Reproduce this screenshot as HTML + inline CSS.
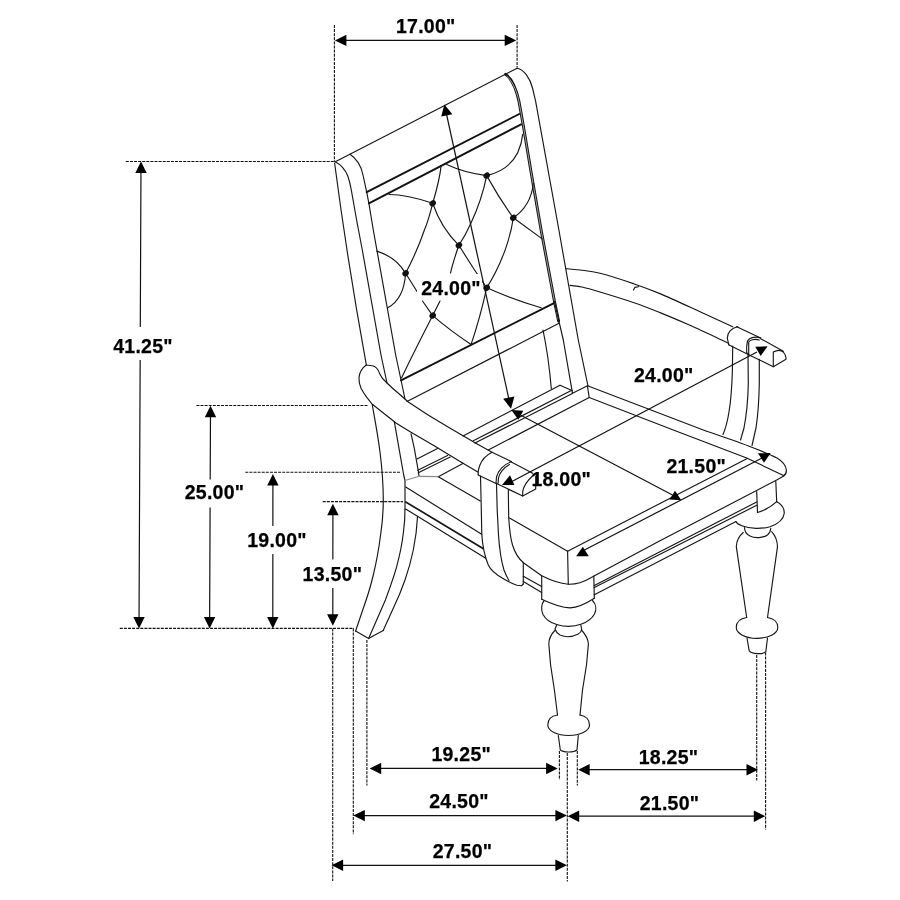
<!DOCTYPE html>
<html>
<head>
<meta charset="utf-8">
<title>Chair dimensions</title>
<style>
html,body{margin:0;padding:0;background:#fff;}
body{width:900px;height:900px;overflow:hidden;font-family:"Liberation Sans",sans-serif;}
svg{will-change:transform;display:block;position:absolute;left:0;top:0;}
.l{fill:none;stroke:#161616;stroke-width:1.15;stroke-linecap:round;stroke-linejoin:round;}
.k{fill:none;stroke:#111;stroke-width:1.9;stroke-linecap:round;stroke-linejoin:round;}
.g{fill:none;stroke:#8a8a8a;stroke-width:1.2;stroke-linecap:round;}
.d{fill:none;stroke:#111;stroke-width:1.1;stroke-dasharray:3 1.1;}
.a{fill:none;stroke:#111;stroke-width:1.2;}
.h{fill:#000;stroke:none;}
.b{fill:#111;stroke:none;}
.w{fill:#fff;stroke:none;}
text{font-family:"Liberation Sans",sans-serif;font-weight:bold;font-size:19.5px;fill:#000;letter-spacing:0.26px;stroke:#000;stroke-width:0.25px;text-anchor:middle;}
</style>
</head>
<body>
<svg width="900" height="900" viewBox="0 0 900 900">
<rect x="0" y="0" width="900" height="900" fill="#fff"/>

<!-- ===== extension (dotted) lines ===== -->
<g id="ext" class="d">
<path d="M334.4,25V162"/>
<path d="M517.1,25V67.5"/>
<path d="M125.8,161.5H334"/>
<path d="M196.4,405.5H368"/>
<path d="M245.3,472.3H400"/>
<path d="M322.7,501.6H403"/>
<path d="M119.8,628.4H354"/>
<path d="M332.7,628.5V881"/>
<path d="M353.3,628.5V834.3"/>
<path d="M366.9,640V785.4"/>
<path d="M559.4,751V780"/>
<path d="M567.3,753V881.5"/>
<path d="M577.3,751V785.4"/>
<path d="M756.7,655V780.6"/>
<path d="M765.6,652.5V829.4"/>
</g>

<!-- ===== CHAIR ===== -->
<g id="chair">
<!--CHAIR-START-->
<!-- back frame -->
<path class="l" d="M334.6,163 Q347.8,263.8 366.3,364.6"/>
<path class="l" d="M335.5,162 C340,164 345.5,169.5 347.8,176 C349.3,180.5 350.5,185 351.3,190 L356.6,220 L362.3,250 L381,355 L387,383"/>
<path class="l" d="M350,154.2 C356,158 361.5,166 363,175 L366.7,192.2 L368.9,203.3 L373.3,230 L395.7,355 L405,399"/>
<path class="l" d="M335.3,161.7 L517.1,68.2"/>
<path class="l" d="M517.1,68.2 C524,69.5 530,78 532.5,88 L535.6,101.1 L558.9,230 L578.3,340 L588,386"/>
<path class="k" style="stroke-width:2.9" d="M505.6,74.4 C511,78 516,88 518.9,101.1 L523.3,125.6 L531.1,172.2 L541.1,230 L554.4,301.1 L558.6,321"/>
<path d="M506.5,76 C511,79.5 516,88 518.9,101.1 L523.3,125.6 L531.1,172.2 L541.1,230 L554.4,301.1 L558.2,319.5" style="fill:none;stroke:#fff;stroke-width:0.6"/>
<path class="l" d="M554.4,301.1 L558.9,321.1 L563.3,340 L572.5,393.3"/>
<path class="k" d="M366.7,192.2 L519.3,114"/>
<path class="k" d="M368.9,203.3 L521.1,124.4"/>
<path class="k" d="M401,380.3 L553.5,303.3"/>
<path class="l" d="M407,401.5 L559,323.3"/>
<path class="l" d="M543,330 Q548.5,356 551.3,388.5"/>
<!-- tufting -->
<g class="l">
<path d="M389,194.5 Q407,194.5 432.7,203.3"/>
<path d="M441.1,165.6 C440,178 436,192 432.7,203.3 C430,214 427,224 424.4,230 C419,246 412,261 405.6,273.3"/>
<path d="M446.7,164.4 Q464,172.5 486.7,175.6"/>
<path d="M486.7,175.6 Q519,168 522.7,134.4"/>
<path d="M486.7,175.6 Q499,198 513.3,217.8"/>
<path d="M486.7,175.6 C484,189 479,206 471,223 C467,232 463,239 458.9,245.3"/>
<path d="M432.7,203.3 Q441,228 458.9,245.3"/>
<path d="M533.3,183.3 Q531,206 513.3,217.8"/>
<path d="M513.3,217.8 L542.2,238.9"/>
<path d="M513.3,217.8 C511,235 503,262 486.7,287.8"/>
<path d="M458.9,245.3 Q453,262 450.5,273"/>
<path d="M440,301 L432.7,315.6"/>
<path d="M458.9,245.3 Q468,260 475.6,271.5 L486.7,287.8"/>
<path d="M376.7,251.1 Q396,257 405.6,273.3"/>
<path d="M405.6,273.3 Q404,299 387.8,307.8"/>
<path d="M405.6,273.3 L417,291.5 M422.5,301 L432.7,315.6"/>
<path d="M486.7,287.8 Q480,318 471.1,344.4"/>
<path d="M486.7,287.8 Q512,299 541.1,307.8"/>
<path d="M432.7,315.6 Q415,350 401.5,378"/>
<path d="M432.7,315.6 Q452,332 471.1,344.4"/>
</g>
<g class="b">
<ellipse cx="486.7" cy="175.6" rx="3.4" ry="2.9" transform="rotate(-35 486.7 175.6)"/>
<ellipse cx="432.7" cy="203.3" rx="3.4" ry="2.9" transform="rotate(-35 432.7 203.3)"/>
<ellipse cx="513.3" cy="217.8" rx="3.4" ry="2.9" transform="rotate(-35 513.3 217.8)"/>
<ellipse cx="458.9" cy="245.3" rx="3.4" ry="2.9" transform="rotate(-35 458.9 245.3)"/>
<ellipse cx="405.6" cy="273.3" rx="3.4" ry="2.9" transform="rotate(-35 405.6 273.3)"/>
<ellipse cx="486.7" cy="287.8" rx="3.4" ry="2.9" transform="rotate(-35 486.7 287.8)"/>
<ellipse cx="432.7" cy="315.6" rx="3.4" ry="2.9" transform="rotate(-35 432.7 315.6)"/>
</g>
<!-- left arm -->
<g class="l">
<path d="M366.3,365 L372.3,365.7 C375,366 378,368.5 379.7,373.7 C381.5,378 384,380.5 387,383 C391,387 395,390.5 399,393.7 L408.3,402 L428.5,415.2 L448.5,427.2 L475,442.8 L492,452.3"/>
<path d="M366.3,365 C362,368 359.5,372 359,377.7 C358.8,382 360,386 361,388.3 C363,392 365,395 367,397.7 L372.3,404.3 L384.3,413.7 L396.3,423.3 L411,432.2 L435,446.3 L461.7,462.6 L477.8,472"/>
<path d="M492,452.3 C486.5,455 481.5,460.5 479.5,466 C478.3,469.5 477.8,472.5 478.2,475"/>
<path d="M492,452.3 L511.3,461.6"/>
<path d="M511.3,461.8 C504,464 498,471 496.5,477 L496,483.3"/>
<path d="M509.5,464.5 C503,468 499,474 498.5,478 L498,483.5"/>
<path d="M478.2,475 L496,483.5"/>
<path d="M511.3,462 L532.7,473.3"/>
<path d="M496,483.3 L522.7,496"/>
<path d="M533.3,475.3 C527,481 523.5,487 522.7,491.3 L522.7,496 L535.7,489 L535.7,476"/>
<!-- left arm post -->
<path d="M480.5,476 L481.2,505 L481.8,534.5 C482.5,545 484.5,556 488.3,565 C491,571 496,574.5 503,578.5 C508,581.5 513,584 517,585.3 L521.5,585.8 L523.3,584"/>
<path d="M496.5,483.5 L497.2,510 L498.5,535 C499.5,550 501.5,562 504,570 C505.5,574 507,577.5 509,580.5"/>
<path d="M508.3,489.5 L508.7,517.5 C509.5,530 511,540 512.5,545 C515,553 519,559 523.3,562.5 L523.3,584"/>
</g>
<!-- rear left leg -->
<g class="l">
<path d="M372.3,405 C375,420 378,436 380,452 C382,468 383.3,484 383.3,500 C383.3,511 382.5,522 380.8,533.3 C379,548 376.5,562 373.3,575 C370.5,587 367,598 363.3,608.3 L355.6,631"/>
<path d="M394.3,421.7 L399,448.3 L403.7,475 L405,480.5"/>
<path d="M405,509 C405,517 404.5,525 403.3,533.3 C402,545 399.5,556 396.7,566.7 C393.5,578 389.5,589 385.4,600 L368.6,638.6"/>
<path d="M411,433.7 L414.3,448.3 L418.3,471 L419,476"/>
<path d="M417.5,516.7 C417,528 415.5,539 413.3,550 C411,561 408.5,570 405,580 C401.5,590 397.5,599.5 393.3,608.3 L383.2,630.6"/>
<path d="M355.6,631 L368.6,638.6 L383.2,630.6"/>
</g>
<!-- seat -->
<g class="l">
<path d="M405,480.5 V509"/>
<path d="M405.7,487 L481.7,534.3"/>
<path d="M405.7,509 L485.7,558.3"/>
<path d="M438.3,476.7 L480.3,501"/>
<path d="M509.5,518 L567.6,551.2"/>
<path d="M567.6,551.2 L568.3,584.2"/>
<path d="M567.6,551.2 L747.3,458.4"/>
<path d="M523,562.5 L541.7,575.8 C550,580 560,583.5 568.3,584.2 C574,584.4 582,583 590,578.2 L594,576 L660,540.8 L776.7,480 L784.2,475.8"/>
<path d="M523.3,576.3 L541.7,586.5"/>
<path d="M523.3,581.5 L541.7,592.6"/>
<!-- front apron -->
<path d="M594.3,585.5 L756.7,502"/>
<path d="M594.3,587.5 L756.7,505.3"/>
<path d="M594.3,594.7 L736,521.5"/>
<!-- right side edges -->
<path d="M587.5,385.8 L703.3,430 C720,436 740,442.5 755,448.5 C765,452.5 772,455.5 777,458 C782,461 785.5,465 786.3,469.5 C786.6,472.5 785.5,474.8 783.5,475.8"/>
<path d="M589.2,397.5 L673.3,430 L746.7,458 L783.5,475.5"/>
<path d="M587.5,386.5 L589.2,397.5"/>
<path d="M587.5,385.8 L572.5,393.3"/>
<!-- rear block -->
<path d="M463,436 L560,385.2 L572.5,390.8"/>
<path d="M473.3,440.8 L570.8,390.8"/>
<path d="M475,443.1 L571.9,393.7"/>
<path d="M488.3,450 L589.2,397.5"/>
<path d="M417,459 L438,448.2"/>
<path d="M417.8,470.3 L447.6,455.4"/>
<path d="M418.3,472.7 L450.2,457.1"/>
<path d="M438.3,476.7 L463.3,463.3"/>
</g>
<path class="l" style="stroke-width:1.7" d="M405.7,501.9 L483,548.6"/>
<path class="g" d="M405,480.5 L419,476.3 L438,476.6"/>
<!-- front-left leg -->
<g class="l">
<path d="M541.7,575.8 V599.2"/>
<path d="M593.8,576 L594.3,598.2"/>
<path d="M541.7,599.2 C555,605.5 563,607.6 570,607.9 C580,607.3 588,602.3 594.3,598.2"/>
<path d="M544.2,600.5 C541,604 541,610 543,614.5 C546,620 551,623 556.7,624.5 C564,626.8 574,626.8 581.7,624 C587,622 592,618.5 594.5,614 C596.5,610 596.5,604.5 592.5,600.5"/>
<path d="M556.7,625 L555,629 C556,632 558,634 560,635 C565,637.2 572,637.2 578.3,634 C580,633 581.5,631 581.7,629.2 L580.8,625"/>
<path d="M554.8,630.5 C551,634.5 548.8,639 548.8,644 L550.6,665 L554.4,690 L557.5,715"/>
<path d="M581.5,630 C585.5,634.5 588.2,639 588.4,644 L586.5,665 L582.5,690 L580,715"/>
<path d="M557.5,715 C551,716 547.8,720 547.8,725 C547.8,731 557,735.5 568.7,735.5 C580,735.5 589.5,731 589.5,725 C589.5,720 586,716 580,715"/>
<path d="M558.3,735.5 L560.3,750 C563,752.3 573,753 577,750 L578.3,735.5"/>
</g>
<!-- front-right leg -->
<g class="l">
<path d="M756.7,491.5 L757.5,512.5"/>
<path d="M775.8,481.3 L776.7,501.7"/>
<path d="M757.5,512.5 Q768.5,509.3 776.7,501.7"/>
<path d="M776.7,501.7 C782,504.5 784.5,509 784.2,513.5 C783.5,519 778,524 770,526.7 C762,529 750,529 741.7,525.8 C738.5,524.5 736.5,523 735.8,521.5"/>
<path d="M744.5,527.5 C744.5,532 747,534.5 750,536 C755,538.5 763,538 767.5,535 C769.5,533.5 770.5,531 770.8,528.3"/>
<path d="M743.3,532.5 C739,536 736.5,541 736.3,546.7 L746.7,617.5"/>
<path d="M771.7,531.7 C775.5,536 777.3,541 777.5,546.7 L767.5,617.5"/>
<path d="M746.7,617.5 C740,618.5 736.3,622.5 736.3,627.5 C736.3,633.5 745.5,638.3 757,638.3 C768.5,638.3 777.8,633.5 777.8,627.5 C777.8,622.5 774,618.5 767.5,617.5"/>
<path d="M747,638 L749.2,650.8 C752,654 762,654.8 765.8,651.7 L767.5,638"/>
</g>
<!-- right arm -->
<g class="l">
<path d="M565.8,268.6 C568.2,268.8 574.3,269.2 580.0,270.0 C585.7,270.8 591.1,271.0 600.0,273.3 C608.9,275.6 623.3,280.2 633.3,283.6 C643.3,287.0 648.1,288.6 660.0,293.6 C671.9,298.6 692.3,308.3 704.4,313.8 C716.5,319.3 728.0,324.6 732.7,326.7"/>
<path d="M570.0,285.4 C572.2,285.7 578.0,286.2 583.0,287.3 C588.0,288.4 591.6,289.5 600.0,292.0 C608.4,294.5 623.3,299.1 633.3,302.5 C643.3,305.9 650.5,308.8 660.0,312.6 C669.5,316.4 678.5,320.2 690.0,325.3 C701.5,330.4 722.2,340.3 728.7,343.3"/>
<path d="M633.5,290 L634.8,287.4 L638.5,286.7"/>
<path d="M737.7,326.7 C731,328 727.5,333 727.3,338 L728.7,344.7"/>
<path d="M736.7,326.7 L760.7,338"/>
<path d="M760.7,338 C754,336 749,338 747.5,341 C746.5,345 746.5,350 746.7,352.7 L748.7,354.7"/>
<path d="M759.3,340 C754,338.5 750,340 748.7,342 L748.7,354"/>
<path d="M728.7,344.7 L748.7,354.7"/>
<path d="M760.7,338.7 L783.3,351.3"/>
<path d="M748.7,354.7 L773.3,366.7"/>
<path d="M773.3,352 C777,350 781,350 783.3,352 C785,354 786,356.5 786,358 L786,359.3 L773.3,366.7 Z"/>
<path d="M732.7,346 L732.4,370 C732,385 731,400 729,412 C727.5,421 726,428 723,434.5"/>
<path d="M748,354.7 L748.3,383.3 C748,400 746.5,415 744,428 L740.5,440"/>
<path d="M759.3,359.3 L759.3,383.3 C759,400 758,415 756,428 L752,445.5"/>
</g>
<!--CHAIR-END-->
</g>

<!-- ===== dimension lines ===== -->
<g id="dims">
<!-- 17.00 -->
<path class="a" d="M340.90,40.40L510.20,40.40"/>
<path class="h" d="M334.9,40.4L346.4,34.7L346.4,46.1Z"/>
<path class="h" d="M516.2,40.4L504.7,46.1L504.7,34.7Z"/>
<!-- 41.25 -->
<path class="a" d="M140.97,167.60L140.29,327M140.15,360L139.03,622.40"/>
<path class="h" d="M141.0,161.6L146.7,173.1L135.3,173.1Z"/>
<path class="h" d="M139.0,628.4L133.3,616.9L144.7,616.9Z"/>
<!-- 25.00 -->
<path class="a" d="M210.48,411.80L210.20,479.5M210.09,507.5L209.62,622.40"/>
<path class="h" d="M210.5,405.8L216.2,417.3L204.8,417.3Z"/>
<path class="h" d="M209.6,628.4L203.9,616.9L215.3,616.9Z"/>
<!-- 19.00 -->
<path class="a" d="M272.90,480.00L272.87,526M272.85,554L272.80,622.40"/>
<path class="h" d="M272.9,474.0L278.6,485.5L267.2,485.5Z"/>
<path class="h" d="M272.8,628.4L267.1,616.9L278.5,616.9Z"/>
<!-- 13.50 -->
<path class="a" d="M332.90,509.70L332.85,559.5M332.83,588L332.80,619.80"/>
<path class="h" d="M332.9,503.7L338.6,515.2L327.2,515.2Z"/>
<path class="h" d="M332.8,625.8L327.1,614.3L338.5,614.3Z"/>
<!-- 19.25 -->
<path class="a" d="M375.70,768.45L551.60,768.45"/>
<path class="h" d="M369.7,768.5L381.2,762.8L381.2,774.2Z"/>
<path class="h" d="M557.6,768.5L546.1,774.2L546.1,762.8Z"/>
<!-- 18.25 -->
<path class="a" d="M584.20,769.70L752.00,769.70"/>
<path class="h" d="M578.2,769.7L589.7,764.0L589.7,775.4Z"/>
<path class="h" d="M758.0,769.7L746.5,775.4L746.5,764.0Z"/>
<!-- 24.50 -->
<path class="a" d="M359.30,815.60L560.90,815.60"/>
<path class="h" d="M353.3,815.6L364.8,809.9L364.8,821.3Z"/>
<path class="h" d="M566.9,815.6L555.4,821.3L555.4,809.9Z"/>
<!-- 21.50b -->
<path class="a" d="M573.70,816.20L759.30,816.20"/>
<path class="h" d="M567.7,816.2L579.2,810.5L579.2,821.9Z"/>
<path class="h" d="M765.3,816.2L753.8,821.9L753.8,810.5Z"/>
<!-- 27.50 -->
<path class="a" d="M337.60,865.30L560.90,865.30"/>
<path class="h" d="M331.6,865.3L343.1,859.6L343.1,871.0Z"/>
<path class="h" d="M566.9,865.3L555.4,871.0L555.4,859.6Z"/>
<!-- diagonal dims -->
<rect class="w" x="417" y="274" width="65" height="26"/>
<path class="a" d="M445.6,110 L509.8,403.3"/>
<path class="h" d="M444.4,104.4 L441.2,116.6 L452.4,114.2 Z"/>
<path class="h" d="M511,408.7 L503.2,398.8 L514.4,396.4 Z"/>
<path class="a" d="M520.8,415.3 L672.5,495"/>
<path class="h" d="M511.3,410 L518.3,419.7 L523.3,410.8 Z"/>
<path class="h" d="M669.5,499.6 L675,490.7 L681.3,500.2 Z"/>
<path class="a" d="M510,482.5 L757,352"/>
<path class="h" d="M502,485 L510,475.3 L514.4,485 Z"/>
<path class="h" d="M755.3,346.7 L767.6,346.3 L760.7,356 Z"/>
<path class="a" d="M583,550.8 L762.5,457.8"/>
<path class="h" d="M576.2,556.3 L582.8,546.7 L588.8,556.3 Z"/>
<path class="h" d="M758,453.3 L770.7,453 L764,462.7 Z"/>
</g>

<!-- ===== labels ===== -->
<g id="labels">
<text x="451" y="294.6">24.00"</text>
<text x="561.2" y="485.9">18.00"</text>
<text x="663.8" y="382.1">24.00"</text>
<text x="696.2" y="472.5">21.50"</text>
<text x="425.8" y="33">17.00"</text>
<text x="143" y="352.9">41.25"</text>
<text x="214.5" y="499.3">25.00"</text>
<text x="277" y="546.8">19.00"</text>
<text x="332.4" y="580.7">13.50"</text>
<text x="461.2" y="760.6">19.25"</text>
<text x="668.5" y="764.1">18.25"</text>
<text x="459" y="807.5">24.50"</text>
<text x="669.5" y="810">21.50"</text>
<text x="462.5" y="857.9">27.50"</text>
</g>
</svg>
</body>
</html>
